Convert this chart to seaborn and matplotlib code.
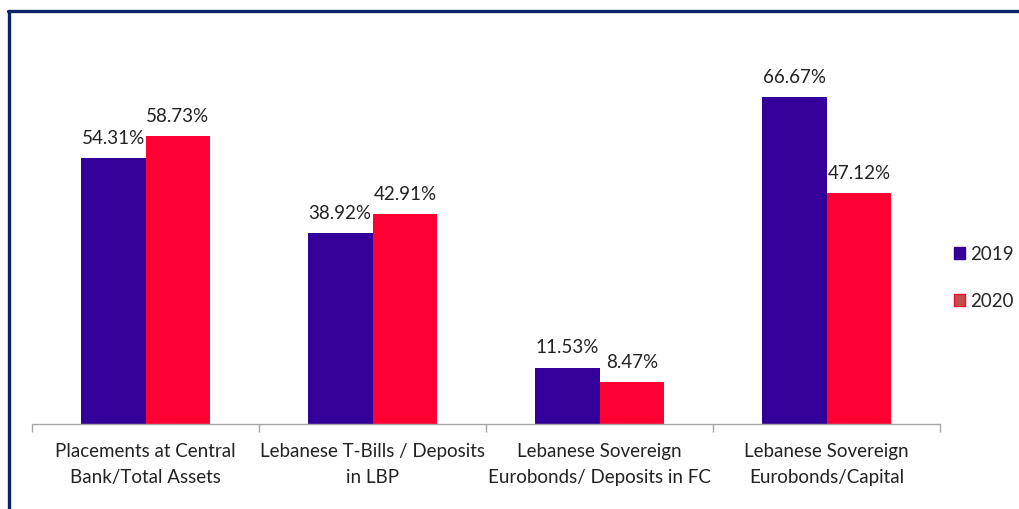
import matplotlib
matplotlib.use("Agg")
import matplotlib.pyplot as plt
from matplotlib.lines import Line2D
from matplotlib.patches import Patch
import seaborn as sns
import pandas as pd

categories = [
    "Placements at Central\nBank/Total Assets",
    "Lebanese T-Bills / Deposits\nin LBP",
    "Lebanese Sovereign\nEurobonds/ Deposits in FC",
    "Lebanese Sovereign\nEurobonds/Capital",
]
years = ["2019", "2020"]
values_2019 = [54.31, 38.92, 11.53, 66.67]
values_2020 = [58.73, 42.91, 8.47, 47.12]

colors = {"2019": "#330099", "2020": "#FF0033"}

df = pd.DataFrame({
    "category": categories * 2,
    "year": [years[0]] * 4 + [years[1]] * 4,
    "value": values_2019 + values_2020,
})

sns.set_theme(style="white")
plt.rcParams["font.family"] = ["Lato", "DejaVu Sans"]

fig = plt.figure(figsize=(10.19, 5.09), dpi=100)
ax = fig.add_axes([32 / 1019, 85 / 509, (940 - 32) / 1019, 392 / 509])

sns.barplot(data=df, x="category", y="value", hue="year", palette=colors,
            width=0.57, saturation=1, ax=ax, legend=False, linewidth=0)

for cont in ax.containers:
    ax.bar_label(cont, labels=[f"{v:.2f}%" for v in cont.datavalues],
                 padding=8, fontsize=13.5, color="#222222")

ax.set_ylim(0, 80)
ax.set_xlim(-0.5, 3.5)
ax.set_xlabel("")
ax.set_ylabel("")
ax.set_yticks([])
ax.set_xticks(range(4))
ax.set_xticklabels(categories, fontsize=13.5, color="#222222", linespacing=1.6)
ax.tick_params(axis="x", which="major", length=0, pad=14)
ax.set_xticks([-0.5, 0.5, 1.5, 2.5, 3.5], minor=True)
ax.tick_params(axis="x", which="minor", length=6, width=1, color="#A6A6A6", bottom=True)
for s in ["top", "right", "left"]:
    ax.spines[s].set_visible(False)
ax.spines["bottom"].set_color("#A6A6A6")
ax.spines["bottom"].set_linewidth(1)

handles = [
    Patch(facecolor="#330099", edgecolor="#330099", label="2019"),
    Patch(facecolor="#C0504D", edgecolor="#FF0033", linewidth=1, label="2020"),
]
fig.legend(handles=handles, loc="center left", bbox_to_anchor=(954 / 1019, 1 - 278 / 509),
           frameon=False, fontsize=13.5, handlelength=0.6, handleheight=0.6,
           handletextpad=0.25, labelspacing=1.6, borderpad=0, borderaxespad=0)

# frame lines along the top and left edges
fig.add_artist(Line2D([8 / 1019, 1.0], [1 - 11 / 509, 1 - 11 / 509],
                      transform=fig.transFigure, color="#0C2466", linewidth=2.4))
fig.add_artist(Line2D([9 / 1019, 9 / 1019], [0, 1 - 11 / 509],
                      transform=fig.transFigure, color="#0C2466", linewidth=2.4))

fig.savefig("out.png", dpi=100)
